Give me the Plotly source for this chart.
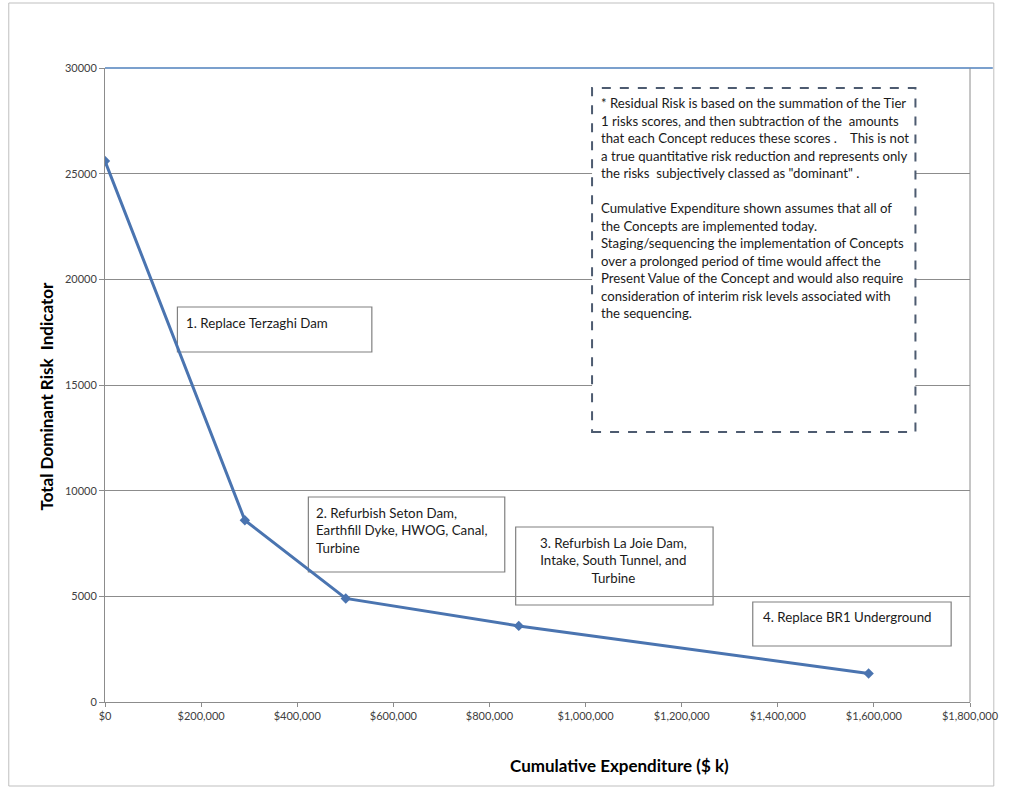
import plotly.graph_objects as go

# ---- data ----
expenditure = [0, 291000, 501000, 861000, 1589000]
risk = [25600, 8600, 4900, 3600, 1350]
y_ticks = [0, 5000, 10000, 15000, 20000, 25000, 30000]
x_ticks = [0, 200000, 400000, 600000, 800000, 1000000, 1200000, 1400000, 1600000, 1800000]
concept_labels = [
    "1. Replace Terzaghi Dam",
    "2. Refurbish Seton Dam,<br>Earthfill Dyke, HWOG, Canal,<br>Turbine",
    "3. Refurbish La Joie Dam,<br>Intake, South Tunnel, and<br>Turbine",
    "4. Replace BR1 Underground",
]
note_lines = [
    "* Residual Risk is based on the summation of the Tier",
    "1 risks scores, and then subtraction of the  amounts",
    "that each Concept reduces these scores .    This is not",
    "a true quantitative risk reduction and represents only",
    "the risks  subjectively classed as \"dominant\" .",
    "",
    "Cumulative Expenditure shown assumes that all of",
    "the Concepts are implemented today.",
    "Staging/sequencing the implementation of Concepts",
    "over a prolonged period of time would affect the",
    "Present Value of the Concept and would also require",
    "consideration of interim risk levels associated with",
    "the sequencing.",
]
x_title = "Cumulative Expenditure ($ k)"
y_title = "Total Dominant Risk  Indicator"

# ---- layout geometry (pixels) ----
WIDTH, HEIGHT = 1011, 788
L, R, T, B = 105, 977, 68, 702
PW, PH = R - L, B - T
FONT = "Lato, 'Open Sans', sans-serif"


def px(x):
    return (x - L) / PW


def py(y):
    return (B - y) / PH


fig = go.Figure()
fig.add_trace(go.Scatter(
    x=expenditure, y=risk, mode="lines+markers",
    line=dict(color="#4A74B0", width=3),
    marker=dict(symbol="diamond", size=8, color="#4A74B0"),
    showlegend=False, hoverinfo="x+y",
))

shapes = []
annotations = []

# outer chart border
shapes.append(dict(type="rect", xref="paper", yref="paper",
                   x0=px(8), x1=px(1001), y0=py(786), y1=py(3),
                   line=dict(color="#BFBFBF", width=1), layer="below"))
# top blue line
shapes.append(dict(type="line", xref="paper", yref="paper",
                   x0=0, x1=px(1000), y0=1, y1=1,
                   line=dict(color="#4F81BD", width=1.5), layer="above"))
# right border of plot
shapes.append(dict(type="line", xref="paper", yref="paper",
                   x0=1, x1=1, y0=0, y1=1,
                   line=dict(color="#8C8C8C", width=1), layer="above"))

# dashed note box
shapes.append(dict(type="rect", xref="paper", yref="paper",
                   x0=px(596), x1=px(922), y0=py(432), y1=py(88),
                   fillcolor="white",
                   line=dict(color="#4D5B70", width=2, dash="dash"), layer="above"))

# concept boxes (x0, x1, top, bottom, filled)
boxes = [
    (178, 374, 307, 352, True),
    (310, 508, 497, 572, True),
    (519, 718, 527, 605, False),
    (758, 958, 602, 646, True),
]
for (x0, x1, yt, yb, filled) in boxes:
    shapes.append(dict(type="rect", xref="paper", yref="paper",
                       x0=px(x0), x1=px(x1), y0=py(yb), y1=py(yt),
                       fillcolor="white" if filled else "rgba(0,0,0,0)",
                       line=dict(color="#808080", width=1.2), layer="between"))

# concept labels: (left/center x, top y, align)
label_pos = [
    (185, 313, "left"),
    (316, 503, "left"),
    (618, 533, "center"),
    (766, 607, "left"),
]
for text, (lx, ty, al) in zip(concept_labels, label_pos):
    annotations.append(dict(
        xref="paper", yref="paper", x=px(lx), y=py(ty),
        xanchor="left" if al == "left" else "center", yanchor="top",
        text=text, align=al, showarrow=False,
        font=dict(family=FONT, size=13.3, color="#1a1a1a"),
    ))

# note lines
for i, line in enumerate(note_lines):
    if not line:
        continue
    cy = 103 + i * 17.5
    annotations.append(dict(
        xref="paper", yref="paper", x=px(603), y=py(cy),
        xanchor="left", yanchor="middle", text=line, showarrow=False,
        font=dict(family=FONT, size=13.2, color="#1a1a1a"),
    ))

# axis titles
annotations.append(dict(
    xref="paper", yref="paper", x=px(624), y=py(765),
    xanchor="center", yanchor="middle", text="<b>" + x_title + "</b>",
    showarrow=False, font=dict(family=FONT, size=17, color="#000000"),
))
annotations.append(dict(
    xref="paper", yref="paper", x=px(46), y=py(396),
    xanchor="center", yanchor="middle", text="<b>" + y_title + "</b>",
    textangle=-90, showarrow=False,
    font=dict(family=FONT, size=17, color="#000000"),
))

x_ticktext = ["$" + format(v, ",") for v in x_ticks]

fig.update_layout(
    width=WIDTH, height=HEIGHT,
    margin=dict(l=L, r=WIDTH - R, t=T, b=HEIGHT - B),
    paper_bgcolor="white", plot_bgcolor="white",
    font=dict(family=FONT, size=11, color="#404040"),
    shapes=shapes, annotations=annotations,
    xaxis=dict(range=[0, 1800000], tickvals=x_ticks, ticktext=x_ticktext,
               showgrid=False, zeroline=False, showline=True,
               linecolor="#8C8C8C", linewidth=1,
               ticks="outside", ticklen=4, tickcolor="#8C8C8C",
               tickfont=dict(family=FONT, size=11, color="#404040")),
    yaxis=dict(range=[0, 30000], tickvals=y_ticks,
               ticktext=[str(v) for v in y_ticks],
               showgrid=True, gridcolor="#8C8C8C", gridwidth=1,
               zeroline=False, showline=True,
               linecolor="#8C8C8C", linewidth=1,
               ticks="outside", ticklen=5, tickcolor="#8C8C8C",
               tickfont=dict(family=FONT, size=11, color="#404040")),
)

fig.write_html("out.html", config={"displayModeBar": False},
               post_script="document.body.style.margin='0';")
